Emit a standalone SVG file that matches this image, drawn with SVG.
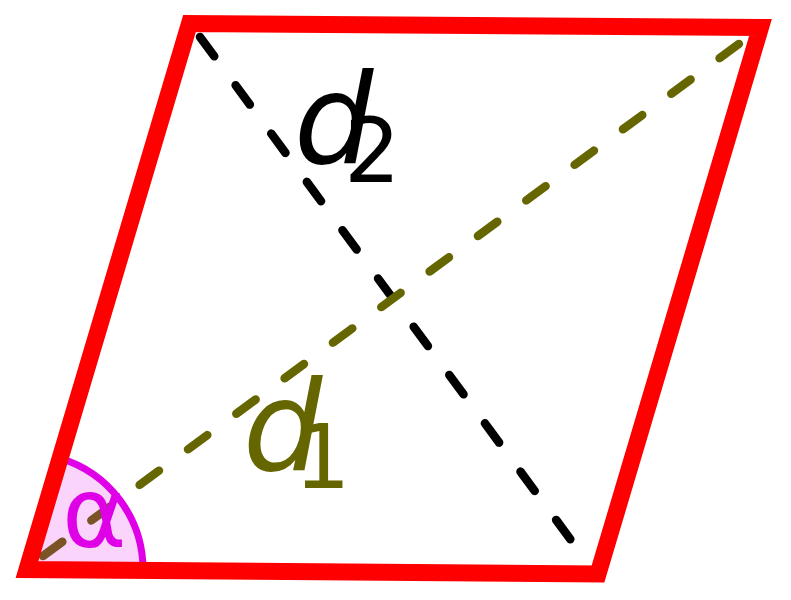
<svg xmlns="http://www.w3.org/2000/svg" width="791" height="600" viewBox="0 0 791 600">
<style>
.diag{fill:none;stroke-width:8.5;stroke-linecap:round;stroke-dasharray:24 36}
.lbl{font-family:"DejaVu Sans",sans-serif}
</style>
<rect width="791" height="600" fill="#fff"/>
<g id="connectors">
<line class="diag" x1="200" y1="37" x2="582" y2="555" stroke="#000"/>
<line class="diag" x1="43" y1="556" x2="747" y2="38" stroke="#666600"/>
</g>
<g id="angle">
<path d="M27,569.5 L143,569.5 A116,116 0 0 0 60.1,458.4 Z" fill="#e000e8" fill-opacity="0.17" stroke="none"/>
<path d="M143,569.5 A116,116 0 0 0 60.1,458.4" fill="none" stroke="#e000e8" stroke-width="7"/>
</g>
<g id="parallelogram">
<polygon points="27,569.5 189.5,23.5 760.5,27.5 598,574" fill="none" stroke="#ff0000" stroke-width="17" stroke-linejoin="miter" stroke-miterlimit="10"/>
</g>
<g id="label-alpha">
<text class="lbl" x="62" y="547" font-size="98" fill="#e000e8">α</text>
</g>
<g id="label-d2">
<text class="lbl" x="294" y="163" font-size="125" font-style="italic" fill="#000">d</text>
<text class="lbl" x="344" y="182" font-size="89" fill="#000">2</text>
</g>
<g id="label-d1">
<text class="lbl" x="243" y="470" font-size="125" font-style="italic" fill="#666600">d</text>
<text class="lbl" x="294" y="488" font-size="89" fill="#666600">1</text>
</g>
</svg>
